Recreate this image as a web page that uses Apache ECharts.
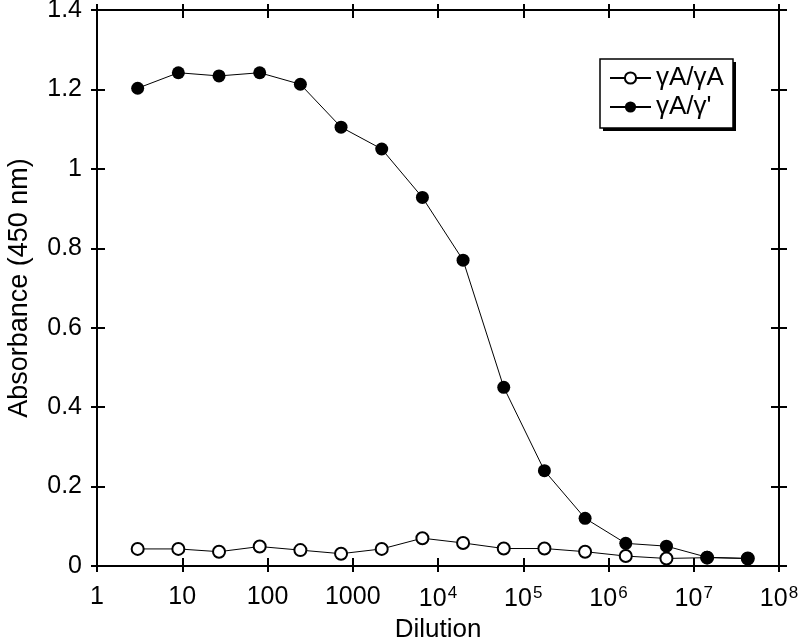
<!DOCTYPE html>
<html><head><meta charset="utf-8">
<script src="https://cdn.jsdelivr.net/npm/echarts@6/dist/echarts.min.js"></script>
<style>html,body{margin:0;padding:0;background:#fff}#c{width:800px;height:640px}</style>
</head><body><div id="c"></div>
<script>
const dilutions = [3, 9, 27, 81, 243, 729, 2187, 6561, 19683, 59049, 177147, 531441, 1594323, 4782969, 14348907, 43046721];
const seriesNames = ['γA/γA', "γA/γ'"];
const absAA = [0.043, 0.043, 0.036, 0.049, 0.040, 0.031, 0.043, 0.070, 0.058, 0.044, 0.044, 0.036, 0.025, 0.019, 0.021, 0.019];
const absAG = [1.203, 1.242, 1.234, 1.242, 1.213, 1.105, 1.050, 0.928, 0.770, 0.450, 0.240, 0.120, 0.057, 0.050, 0.022, 0.019];
const xTickExponents = [0, 1, 2, 3, 4, 5, 6, 7, 8];
const yTicks = [0, 0.2, 0.4, 0.6, 0.8, 1, 1.2, 1.4];

const FONT = 'Liberation Sans';
const chart = echarts.init(document.getElementById('c'));
function xLabel(v) {
  const e = Math.round(Math.log10(v));
  if (e <= 3) return String(Math.pow(10, e));
  return '10{s|' + e + '}';
}
const baseX = {type: 'log', logBase: 10, min: Math.pow(10, xTickExponents[0]), max: Math.pow(10, xTickExponents[xTickExponents.length - 1]),
  interval: 1, gridIndex: 0, splitLine: {show: false}, minorTick: {show: false}};
const lineStyle = {color: '#000', width: 2};
const tickStyle = {color: '#000', width: 2};
const xAxes = [
  Object.assign({}, baseX, {position: 'bottom', axisLine: {show: true, onZero: false, lineStyle},
    axisTick: {show: true, inside: false, length: 6, lineStyle: tickStyle},
    axisLabel: {show: true, formatter: xLabel, color: '#000', fontFamily: FONT, fontSize: 25, margin: 19,
      rich: {s: {fontFamily: FONT, fontSize: 17, verticalAlign: 'bottom', padding: [0, 0, 12, 1]}}},
    name: 'Dilution', nameLocation: 'middle', nameGap: 51,
    nameTextStyle: {color: '#000', fontFamily: FONT, fontSize: 26}}),
  Object.assign({}, baseX, {position: 'bottom', axisLine: {show: false, onZero: false},
    axisTick: {show: true, inside: true, length: 8, lineStyle: tickStyle}, axisLabel: {show: false}}),
  Object.assign({}, baseX, {position: 'top', axisLine: {show: true, onZero: false, lineStyle},
    axisTick: {show: true, inside: false, length: 6, lineStyle: tickStyle}, axisLabel: {show: false}}),
  Object.assign({}, baseX, {position: 'top', axisLine: {show: false, onZero: false},
    axisTick: {show: true, inside: true, length: 8, lineStyle: tickStyle}, axisLabel: {show: false}})
];
const baseY = {type: 'value', min: yTicks[0], max: yTicks[yTicks.length - 1], interval: 0.2, splitLine: {show: false}};
const yAxes = [
  Object.assign({}, baseY, {position: 'left', axisLine: {show: true, onZero: false, lineStyle},
    axisTick: {show: true, inside: false, length: 6, lineStyle: tickStyle},
    axisLabel: {show: true, color: '#000', fontFamily: FONT, fontSize: 25, margin: 15},
    name: 'Absorbance (450 nm)', nameLocation: 'middle', nameGap: 64,
    nameTextStyle: {color: '#000', fontFamily: FONT, fontSize: 27}}),
  Object.assign({}, baseY, {position: 'left', axisLine: {show: false, onZero: false},
    axisTick: {show: true, inside: true, length: 8, lineStyle: tickStyle}, axisLabel: {show: false}}),
  Object.assign({}, baseY, {position: 'right', axisLine: {show: true, onZero: false, lineStyle},
    axisTick: {show: true, inside: false, length: 8, lineStyle: tickStyle}, axisLabel: {show: false}}),
  Object.assign({}, baseY, {position: 'right', axisLine: {show: false, onZero: false},
    axisTick: {show: true, inside: true, length: 8, lineStyle: tickStyle}, axisLabel: {show: false}})
];
chart.setOption({
  animation: false,
  backgroundColor: '#fff',
  grid: {left: 97, right: 21, top: 10, bottom: 74, containLabel: false, outerBoundsMode: 'none'},
  xAxis: xAxes,
  yAxis: yAxes,
  graphic: [
    {type: 'rect', z: 50, silent: true, shape: {x: 603, y: 62, width: 133, height: 69}, style: {fill: '#000'}},
    {type: 'rect', z: 51, silent: true, shape: {x: 600, y: 59, width: 133, height: 69}, style: {fill: '#fff', stroke: '#000', lineWidth: 1.5}}
  ],
  legend: {
    orient: 'vertical', left: 600, top: 59, z: 60,
    data: seriesNames,
    itemWidth: 41, itemHeight: 14, itemGap: 3,
    padding: [6, 8, 8, 9],
    textStyle: {color: '#000', fontFamily: FONT, fontSize: 26, lineHeight: 26}
  },
  series: [
    {name: seriesNames[0], type: 'line', xAxisIndex: 0, yAxisIndex: 0,
     data: dilutions.map((d, i) => [d, absAA[i]]),
     symbol: 'emptyCircle', symbolSize: 12, color: '#000',
     itemStyle: {color: '#000', borderWidth: 1},
     lineStyle: {color: '#000', width: 1}, z: 2},
    {name: seriesNames[1], type: 'line', xAxisIndex: 0, yAxisIndex: 0,
     data: dilutions.map((d, i) => [d, absAG[i]]),
     symbol: 'circle', symbolSize: 13, color: '#000',
     itemStyle: {color: '#000'},
     lineStyle: {color: '#000', width: 1}, z: 3}
  ]
});
</script></body></html>
